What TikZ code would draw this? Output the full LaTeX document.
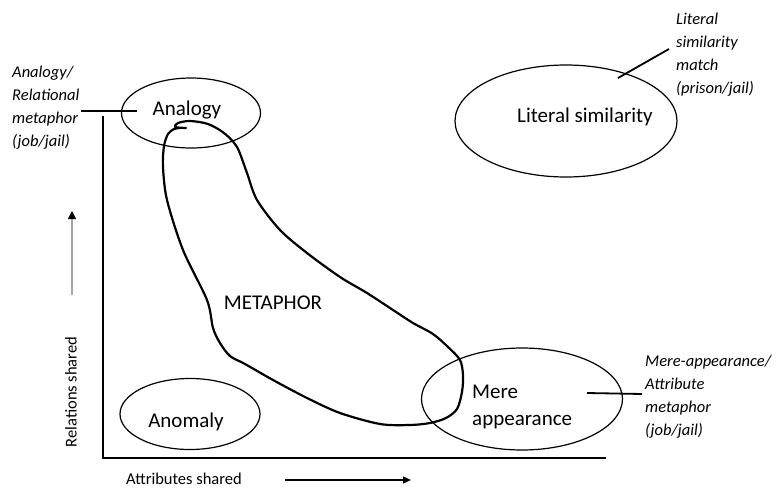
\documentclass[tikz,border=0pt]{standalone}
\usepackage{fontspec}
\setmainfont{Carlito}
\usetikzlibrary{shapes.geometric,arrows.meta}

\tikzset{
  region/.style={draw, ellipse, line width=1.2pt, inner sep=0pt},
  label/.style={inner sep=0pt, font=\fontsize{21}{27}\selectfont},
  note/.style={inner sep=0pt, align=left, anchor=north west,
    font=\fontsize{16.5}{23}\selectfont\itshape},
  axislabel/.style={inner sep=0pt, font=\fontsize{16.5}{20}\selectfont},
  axis/.style={line width=2pt},
  leader/.style={line width=1.8pt},
  scribble/.style={line width=2.2pt, line join=round, line cap=round}
}

\begin{document}
\begin{tikzpicture}[x=1pt, y=-1pt]
\useasboundingbox (0,0) rectangle (777,490);

% regions of the similarity space
\node[region, minimum width=139pt, minimum height=70pt] (analogy) at (191,113) {};
\node[region, minimum width=222pt, minimum height=112pt] (literal) at (566,121) {};
\node[region, minimum width=201pt, minimum height=102pt] (mere) at (522,399) {};
\node[region, minimum width=140pt, minimum height=71pt] (anomaly) at (190,414) {};

% region names
\node[label] (analogyText) at (187,110) {Analogy};
\node[label] (literalText) at (585,117) {Literal similarity};
\node[label, align=left, anchor=west] (mereText) at (472,407) {Mere\\appearance};
\node[label] (anomalyText) at (186,422) {Anomaly};
\node[label] (metaphorText) at (273,303) {METAPHOR};

% axes
\coordinate (origin) at (103,458);
\coordinate (yTop) at (103,116);
\coordinate (xEnd) at (606,458);
\draw[axis] (yTop) -- (origin) -- (xEnd);

% axis names and direction arrows
\node[axislabel, rotate=90] (relShared) at (71,392) {Relations shared};
\node[axislabel] (attShared) at (184,479) {Attributes shared};
\coordinate (upFrom) at (72,295);
\coordinate (upTo) at (72,211);
\draw[line width=1.2pt, gray!70, -{Triangle[length=8pt, width=8pt, fill=black, color=black]}] (upFrom) -- (upTo);
\coordinate (rightFrom) at (285,480);
\coordinate (rightTo) at (411,480);
\draw[line width=1.3pt, -{Triangle[length=8pt, width=7pt]}] (rightFrom) -- (rightTo);

% side notes
\node[note] (analogyNote) at (12,66) {Analogy/\\Relational\\metaphor\\(job/jail)};
\node[note] (literalNote) at (676,13) {Literal\\similarity\\match\\(prison/jail)};
\node[note] (mereNote) at (645,355) {Mere-appearance/\\Attribute\\metaphor\\(job/jail)};

% leader lines from the notes into the regions
\coordinate (anaA) at (81,111);
\coordinate (anaB) at (137,111);
\draw[leader] (anaA) -- (anaB);
\coordinate (litA) at (669,49);
\coordinate (litB) at (618,78);
\draw[leader] (litA) -- (litB);
\coordinate (merA) at (642,394);
\coordinate (merB) at (587,393);
\draw[leader] (merA) -- (merB);

% hand-drawn outline of the metaphor zone
\draw[scribble] plot[smooth, tension=0.5] coordinates {
  (186,128) (175,127) (178,123) (190,121) (208,124) (224,133) (237,147)
  (247,173) (257,200) (280,230) (307,253) (340,277) (367,293) (393,310)
  (413,323) (433,334) (448,347) (460,360) (463,375) (462,392) (457,409)
  (446,418) (430,423) (410,425) (380,424) (340,413) (307,398) (273,380)
  (245,364) (230,356) (220,343) (213,328) (207,300) (183,250) (167,200)
  (163,167) (164,146) (168,134) (174,129) (180,128)};
\end{tikzpicture}
\end{document}
